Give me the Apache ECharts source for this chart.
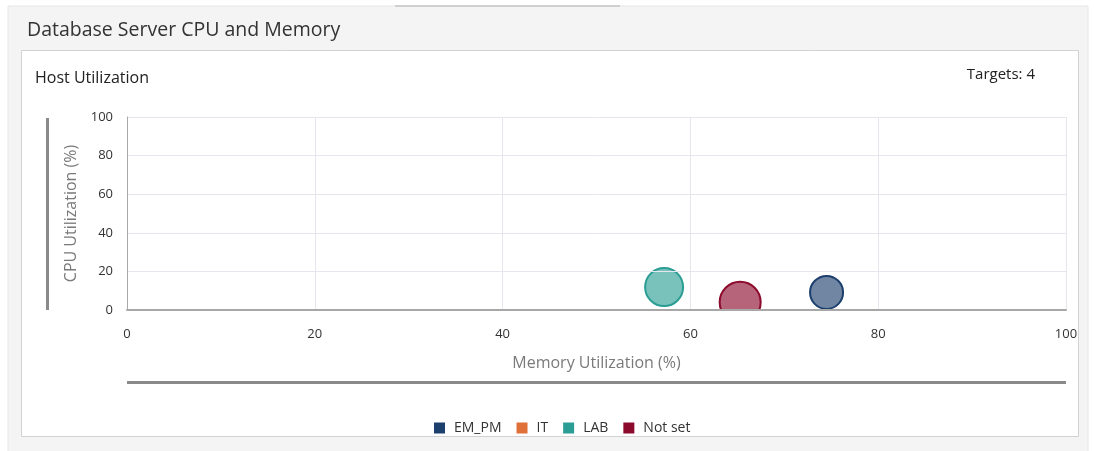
<!DOCTYPE html>
<html>
<head>
<meta charset="utf-8">
<script src="https://cdn.jsdelivr.net/npm/echarts@6/dist/echarts.min.js"></script>
<style>
html,body{margin:0;padding:0;background:#ffffff;}
#chart{width:1094px;height:451px;}
</style>
</head>
<body>
<div id="chart"></div>
<script>
// ---- data ----
const groups = ['EM_PM', 'IT', 'LAB', 'Not set'];
const groupColors = ['#1d3f6e', '#e0703a', '#2a9d94', '#8c0a2c'];
const memoryUtil = [[74.5], [], [57.2], [65.3]];
const cpuUtil = [[9.1], [], [11.9], [4.0]];
const bubbleSize = [[33], [], [38], [41]];
const xTicks = [0, 20, 40, 60, 80, 100];
const yTicks = [0, 20, 40, 60, 80, 100];
const targetsCount = 4;

const fontFam = '"Open Sans", "Noto Sans", sans-serif';

function hexA(hex, a) {
  const n = parseInt(hex.slice(1), 16);
  return 'rgba(' + ((n >> 16) & 255) + ',' + ((n >> 8) & 255) + ',' + (n & 255) + ',' + a + ')';
}

const series = groups.map((g, i) => ({
  name: g,
  type: 'scatter',
  z: 2,
  data: memoryUtil[i].map((m, k) => [m, cpuUtil[i][k], bubbleSize[i][k]]),
  symbolSize: v => v[2],
  itemStyle: { color: hexA(groupColors[i], 0.63), borderColor: groupColors[i], borderWidth: 2, opacity: 1 },
  emphasis: { disabled: true }
}));

const chart = echarts.init(document.getElementById('chart'));
chart.setOption({
  animation: false,
  textStyle: { fontFamily: fontFam },
  color: groupColors,
  graphic: [
    { type: 'rect', z: -10, shape: { x: 8, y: 6, width: 1080, height: 446 }, style: { fill: '#f4f4f4', stroke: '#e6e6e6', lineWidth: 1 } },
    { type: 'rect', z: -9, shape: { x: 395, y: 5, width: 225, height: 2 }, style: { fill: '#cfcfcf' } },
    { type: 'rect', z: -8, shape: { x: 21.5, y: 50.5, width: 1057, height: 386 }, style: { fill: '#ffffff', stroke: '#d2d2d2', lineWidth: 1 } },
    { type: 'text', z: 5, left: 27, top: 20, style: { text: 'Database Server CPU and Memory', font: '19.5px ' + fontFam, fill: '#333333' } },
    { type: 'text', z: 5, left: 35, top: 70, style: { text: 'Host Utilization', font: '16px ' + fontFam, fill: '#222222' } },
    { type: 'text', z: 5, right: 59, top: 67, style: { text: 'Targets: ' + targetsCount, font: '15px ' + fontFam, fill: '#222222', align: 'right' } },
    { type: 'rect', z: 5, shape: { x: 46, y: 118, width: 3, height: 192 }, style: { fill: '#8a8a8a' } },
    { type: 'rect', z: 5, shape: { x: 127, y: 381, width: 939, height: 3 }, style: { fill: '#8a8a8a' } },
    { type: 'rect', z: 4, shape: { x: 120, y: 311, width: 950, height: 14 }, style: { fill: '#ffffff' } }
  ],
  grid: { left: 127, right: 28, top: 117, bottom: 141, containLabel: false },
  xAxis: {
    type: 'value', min: xTicks[0], max: xTicks[xTicks.length - 1], interval: 20,
    name: 'Memory Utilization (%)', nameLocation: 'middle', nameGap: 45,
    nameTextStyle: { color: '#7a7a7a', fontSize: 16, fontFamily: fontFam },
    z: 10,
    axisLine: { show: true, lineStyle: { color: '#a8a8a8', width: 2 } },
    axisTick: { show: false },
    axisLabel: { color: '#333333', fontSize: 13, margin: 18, fontFamily: fontFam },
    splitLine: { show: true, lineStyle: { color: '#e6e6ee', width: 1 } }
  },
  yAxis: {
    type: 'value', min: yTicks[0], max: yTicks[yTicks.length - 1], interval: 20,
    name: 'CPU Utilization (%)', nameLocation: 'middle', nameGap: 48,
    nameTextStyle: { color: '#7a7a7a', fontSize: 16, fontFamily: fontFam },
    z: 10,
    axisLine: { show: true, lineStyle: { color: '#a8a8a8', width: 1 } },
    axisTick: { show: false },
    axisLabel: { color: '#333333', fontSize: 13, margin: 14, fontFamily: fontFam },
    splitLine: { show: true, lineStyle: { color: '#e6e6ee', width: 1 } }
  },
  legend: {
    data: groups.map((g, i) => ({ name: g, itemStyle: { color: groupColors[i], borderWidth: 0, opacity: 1 } })),
    left: 429, top: 416, icon: 'rect', itemWidth: 11, itemHeight: 11, itemGap: 15,
    textStyle: { color: '#333333', fontSize: 14, fontFamily: fontFam, padding: [0, 0, 0, 4] },
    selectedMode: false
  },
  series: series
});
</script>
</body>
</html>
